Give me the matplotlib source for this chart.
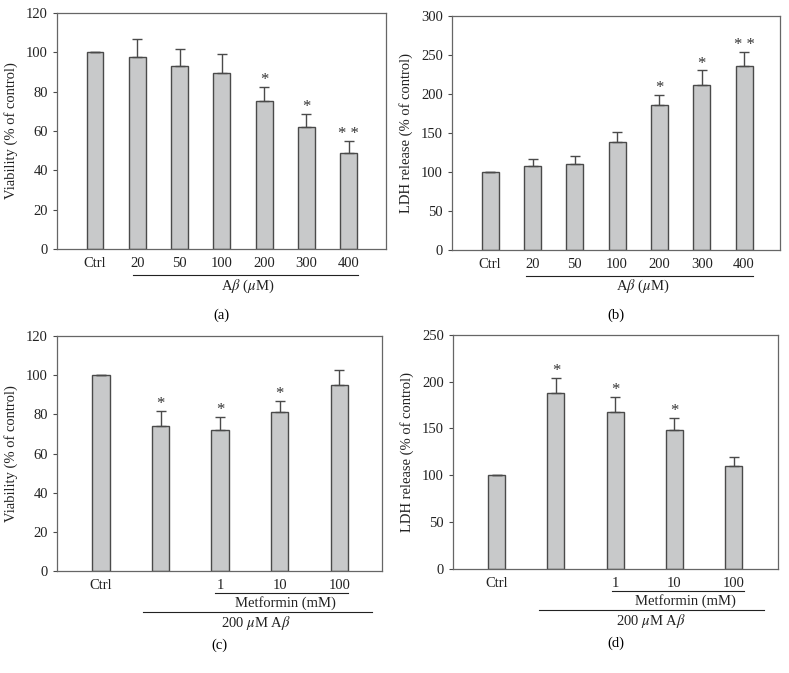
import numpy as np
import matplotlib
matplotlib.use("Agg")
import matplotlib.pyplot as plt
from matplotlib.lines import Line2D

plt.rcParams['font.family'] = ['Liberation Serif', 'DejaVu Serif']
plt.rcParams['mathtext.fontset'] = 'stix'
plt.rcParams['font.size'] = 10

# panel a / b : A-beta dose response
dose_labels = ["Ctrl", "20", "50", "100", "200", "300", "400"]
via_a = [100, 97.5, 93, 89.5, 75, 62, 49]
via_a_err = [0, 9.5, 8.5, 9.5, 7.5, 6.5, 6]
via_a_sig = ["", "", "", "", "*", "*", "**"]
ldh_b = [100, 108, 110, 139, 186, 211, 236]
ldh_b_err = [0, 9, 10, 12, 13, 19, 18]
ldh_b_sig = ["", "", "", "", "*", "*", "**"]

# panel c / d : metformin rescue
met_labels = ["Ctrl", "", "1", "10", "100"]
via_c = [100, 74, 72, 81, 95]
via_c_err = [0, 7.5, 6.5, 6, 7.5]
via_c_sig = ["", "*", "*", "*", ""]
ldh_d = [100, 188, 168, 148, 110]
ldh_d_err = [0, 16, 16, 13, 9.5]
ldh_d_sig = ["", "*", "*", "*", ""]

bar_col = "#c8c9ca"
edge_col = "#4a4a4a"

fig = plt.figure(figsize=(7.89, 6.73), dpi=100)


def draw_panel(rect, vals, errs, sig, labels, ylim, yticks, ylabel, width, xlim, star_off):
    ax = fig.add_axes(rect)
    x = np.arange(len(vals))
    ax.bar(x, vals, width=width, color=bar_col, edgecolor=edge_col, linewidth=1.0, zorder=2)
    ax.errorbar(x, vals, yerr=[np.zeros(len(errs)), errs], fmt="none", ecolor=edge_col,
                elinewidth=1.0, capsize=3.5, capthick=1.0, zorder=3)
    for xi, v, e, s in zip(x, vals, errs, sig):
        if s:
            ax.text(xi, v + e + star_off, " ".join(s), ha="center", va="bottom", fontsize=12, color="#333333")
    ax.set_xlim(*xlim)
    ax.set_ylim(*ylim)
    ax.set_yticks(yticks)
    ax.set_xticks(x)
    ax.set_xticklabels(labels)
    ax.tick_params(axis="x", length=0, pad=6, labelsize=10.5, colors="#222222")
    ax.tick_params(axis="y", length=3, direction="out", labelsize=10.5, colors="#222222", color=edge_col)
    for sp in ax.spines.values():
        sp.set_color("#666666")
        sp.set_linewidth(0.9)
    ax.set_ylabel(ylabel, fontsize=10.5, color="#222222", labelpad=6)
    return ax


def hline(ax, x0, x1, yfrac):
    tr = matplotlib.transforms.blended_transform_factory(ax.transData, ax.transAxes)
    ax.add_line(Line2D([x0, x1], [yfrac, yfrac], transform=tr, color="#222222", lw=0.8, clip_on=False))


def htext(ax, x, yfrac, s):
    tr = matplotlib.transforms.blended_transform_factory(ax.transData, ax.transAxes)
    ax.text(x, yfrac, s, transform=tr, ha="center", va="center", fontsize=10.5, color="#222222")


ab = r"A$\beta$ ($\mu$M)"

ax_a = draw_panel([0.0722, 0.630, 0.417, 0.3507], via_a, via_a_err, via_a_sig, dose_labels,
                  (0, 120), np.arange(0, 121, 20), "Viability (% of control)", 0.4, (-0.9, 6.88), -0.5)
hline(ax_a, 0.9, 6.22, -0.11)
htext(ax_a, 3.6, -0.157, ab)
ax_a.text(0.5, -0.28, "(a)", transform=ax_a.transAxes, ha="center", va="center", fontsize=10.5)

ax_b = draw_panel([0.573, 0.6285, 0.4157, 0.348], ldh_b, ldh_b_err, ldh_b_sig, dose_labels,
                  (0, 300), np.arange(0, 301, 50), "LDH release (% of control)", 0.4, (-0.9, 6.85), -1.5)
hline(ax_b, 0.85, 6.2, -0.11)
htext(ax_b, 3.6, -0.157, ab)
ax_b.text(0.5, -0.28, "(b)", transform=ax_b.transAxes, ha="center", va="center", fontsize=10.5)

met = "Metformin (mM)"
amb = r"200 $\mu$M A$\beta$"

ax_c = draw_panel([0.0722, 0.1516, 0.412, 0.349], via_c, via_c_err, via_c_sig, met_labels,
                  (0, 120), np.arange(0, 121, 20), "Viability (% of control)", 0.29, (-0.74, 4.72), -0.5)
hline(ax_c, 1.92, 4.15, -0.093)
htext(ax_c, 3.1, -0.135, met)
hline(ax_c, 0.71, 4.55, -0.175)
htext(ax_c, 2.6, -0.22, amb)
ax_c.text(0.5, -0.315, "(c)", transform=ax_c.transAxes, ha="center", va="center", fontsize=10.5)

ax_d = draw_panel([0.574, 0.1545, 0.412, 0.348], ldh_d, ldh_d_err, ldh_d_sig, met_labels,
                  (0, 250), np.arange(0, 251, 50), "LDH release (% of control)", 0.29, (-0.74, 4.75), -1.2)
hline(ax_d, 1.95, 4.17, -0.093)
htext(ax_d, 3.19, -0.135, met)
hline(ax_d, 0.71, 4.52, -0.175)
htext(ax_d, 2.6, -0.22, amb)
ax_d.text(0.5, -0.315, "(d)", transform=ax_d.transAxes, ha="center", va="center", fontsize=10.5)

fig.savefig("out.png", dpi=100)
